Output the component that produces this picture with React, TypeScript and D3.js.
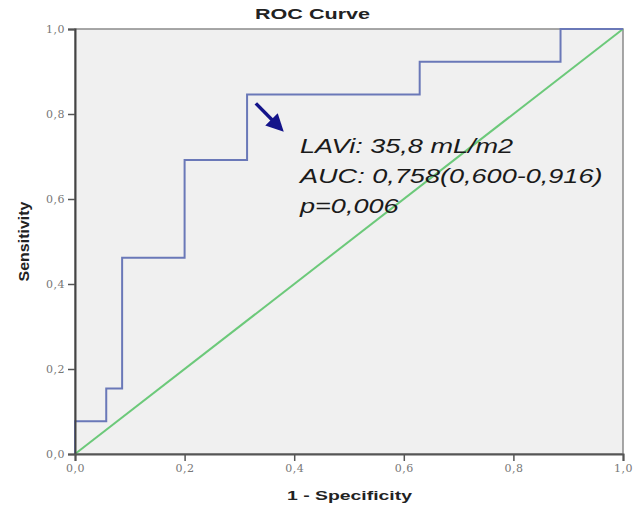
import React, { useEffect, useRef } from 'react';
import * as d3 from 'd3';

// ROC step points (1 - specificity, sensitivity)
const fpr = [0, 0, 0.057, 0.086, 0.2, 0.314, 0.629, 0.886, 1];
const tpr = [0, 0.077, 0.154, 0.462, 0.692, 0.846, 0.923, 1, 1];

// reference (chance) line
const refLine = [0, 1];

const tickValues = [0, 0.2, 0.4, 0.6, 0.8, 1];
const tickLabels = ['0,0', '0,2', '0,4', '0,6', '0,8', '1,0'];

const annotation = ['LAVi: 35,8 mL/m2', 'AUC: 0,758(0,600-0,916)', 'p=0,006'];

const App = () => {
  const ref = useRef<SVGSVGElement | null>(null);

  useEffect(() => {
    if (!ref.current) return;
    const svg = d3.select(ref.current);
    svg.selectAll('*').remove();

    const margin = { top: 29, right: 13, bottom: 57, left: 75 },
      width = 636 - margin.left - margin.right,
      height = 511 - margin.top - margin.bottom;

    const x = d3.scaleLinear().domain([0, 1]).range([margin.left, margin.left + width]);
    const y = d3.scaleLinear().domain([0, 1]).range([margin.top + height, margin.top]);

    const sans = 'Liberation Sans, Arial, sans-serif';

    // plot panel
    svg.append('rect')
      .attr('x', x(0)).attr('y', y(1))
      .attr('width', x(1) - x(0)).attr('height', y(0) - y(1))
      .attr('fill', '#f0f0f0')
      .attr('stroke', '#8a8a8a')
      .attr('stroke-width', 1.5);

    // title
    svg.append('text')
      .attr('x', 255).attr('y', 19)
      .attr('textLength', 115)
      .attr('lengthAdjust', 'spacingAndGlyphs')
      .attr('font-family', sans)
      .attr('font-weight', 'bold')
      .attr('font-size', 14)
      .attr('fill', '#222')
      .text('ROC Curve');

    // diagonal reference line
    svg.append('line')
      .attr('x1', x(refLine[0])).attr('y1', y(refLine[0]))
      .attr('x2', x(refLine[1])).attr('y2', y(refLine[1]))
      .attr('stroke', '#6cc97a')
      .attr('stroke-width', 2);

    // ROC curve
    const pts: [number, number][] = fpr.map((f, i) => [f, tpr[i]]);
    const line = d3.line<[number, number]>()
      .x(d => x(d[0]))
      .y(d => y(d[1]))
      .curve(d3.curveStepAfter);
    svg.append('path')
      .datum(pts)
      .attr('d', line)
      .attr('fill', 'none')
      .attr('stroke', '#6a78b8')
      .attr('stroke-width', 2);

    // Y axis
    const yAxis = svg.append('g')
      .attr('transform', `translate(${x(0)},0)`)
      .call(d3.axisLeft(y).tickValues(tickValues).tickSize(7).tickPadding(3)
        .tickFormat((d, i) => tickLabels[i]));
    yAxis.select('.domain').attr('stroke', '#444').attr('stroke-width', 2);

    // X axis
    const xAxis = svg.append('g')
      .attr('transform', `translate(0,${y(0)})`)
      .call(d3.axisBottom(x).tickValues(tickValues).tickSize(7).tickPadding(3)
        .tickFormat((d, i) => tickLabels[i]));
    xAxis.select('.domain').attr('stroke', '#555').attr('stroke-width', 2);

    svg.selectAll('.tick line').attr('stroke', '#555').attr('stroke-width', 1.5);
    svg.selectAll('.tick text')
      .attr('font-family', 'DejaVu Serif, serif')
      .attr('font-size', 11)
      .attr('letter-spacing', 0.5)
      .attr('fill', '#777');

    // axis titles
    svg.append('text')
      .attr('x', 287).attr('y', 500)
      .attr('textLength', 125)
      .attr('lengthAdjust', 'spacingAndGlyphs')
      .attr('font-family', sans)
      .attr('font-weight', 'bold')
      .attr('font-size', 13)
      .attr('fill', '#222')
      .text('1 - Specificity');

    svg.append('text')
      .attr('transform', `translate(29,${y(0.5) + 40}) rotate(-90)`)
      .attr('textLength', 80)
      .attr('lengthAdjust', 'spacingAndGlyphs')
      .attr('font-family', sans)
      .attr('font-weight', 'bold')
      .attr('font-size', 14)
      .attr('fill', '#222')
      .text('Sensitivity');

    // arrow
    svg.append('defs').append('marker')
      .attr('id', 'arrowhead')
      .attr('viewBox', '0 0 10 10')
      .attr('refX', 6).attr('refY', 5)
      .attr('markerWidth', 5).attr('markerHeight', 5)
      .attr('orient', 'auto')
      .append('path')
      .attr('d', 'M0,0 L10,5 L0,10 z')
      .attr('fill', '#14148a');
    svg.append('line')
      .attr('x1', x(0.33)).attr('y1', y(0.825))
      .attr('x2', x(0.372)).attr('y2', y(0.77))
      .attr('stroke', '#14148a')
      .attr('stroke-width', 3.5)
      .attr('marker-end', 'url(#arrowhead)');

    // annotation text (horizontally stretched like the source)
    svg.append('g')
      .selectAll('text')
      .data(annotation)
      .enter()
      .append('text')
      .attr('transform', (d, i) => `translate(300,${153 + i * 30}) scale(1.29,1)`)
      .attr('font-family', sans)
      .attr('font-style', 'italic')
      .attr('font-size', 21)
      .attr('fill', '#1a1a1a')
      .text(d => d);
  }, []);

  return (
    <svg
      ref={ref}
      width={636}
      height={511}
      style={{ position: 'absolute', left: 0, top: 0, background: '#fff' }}
    />
  );
};

export default App;
